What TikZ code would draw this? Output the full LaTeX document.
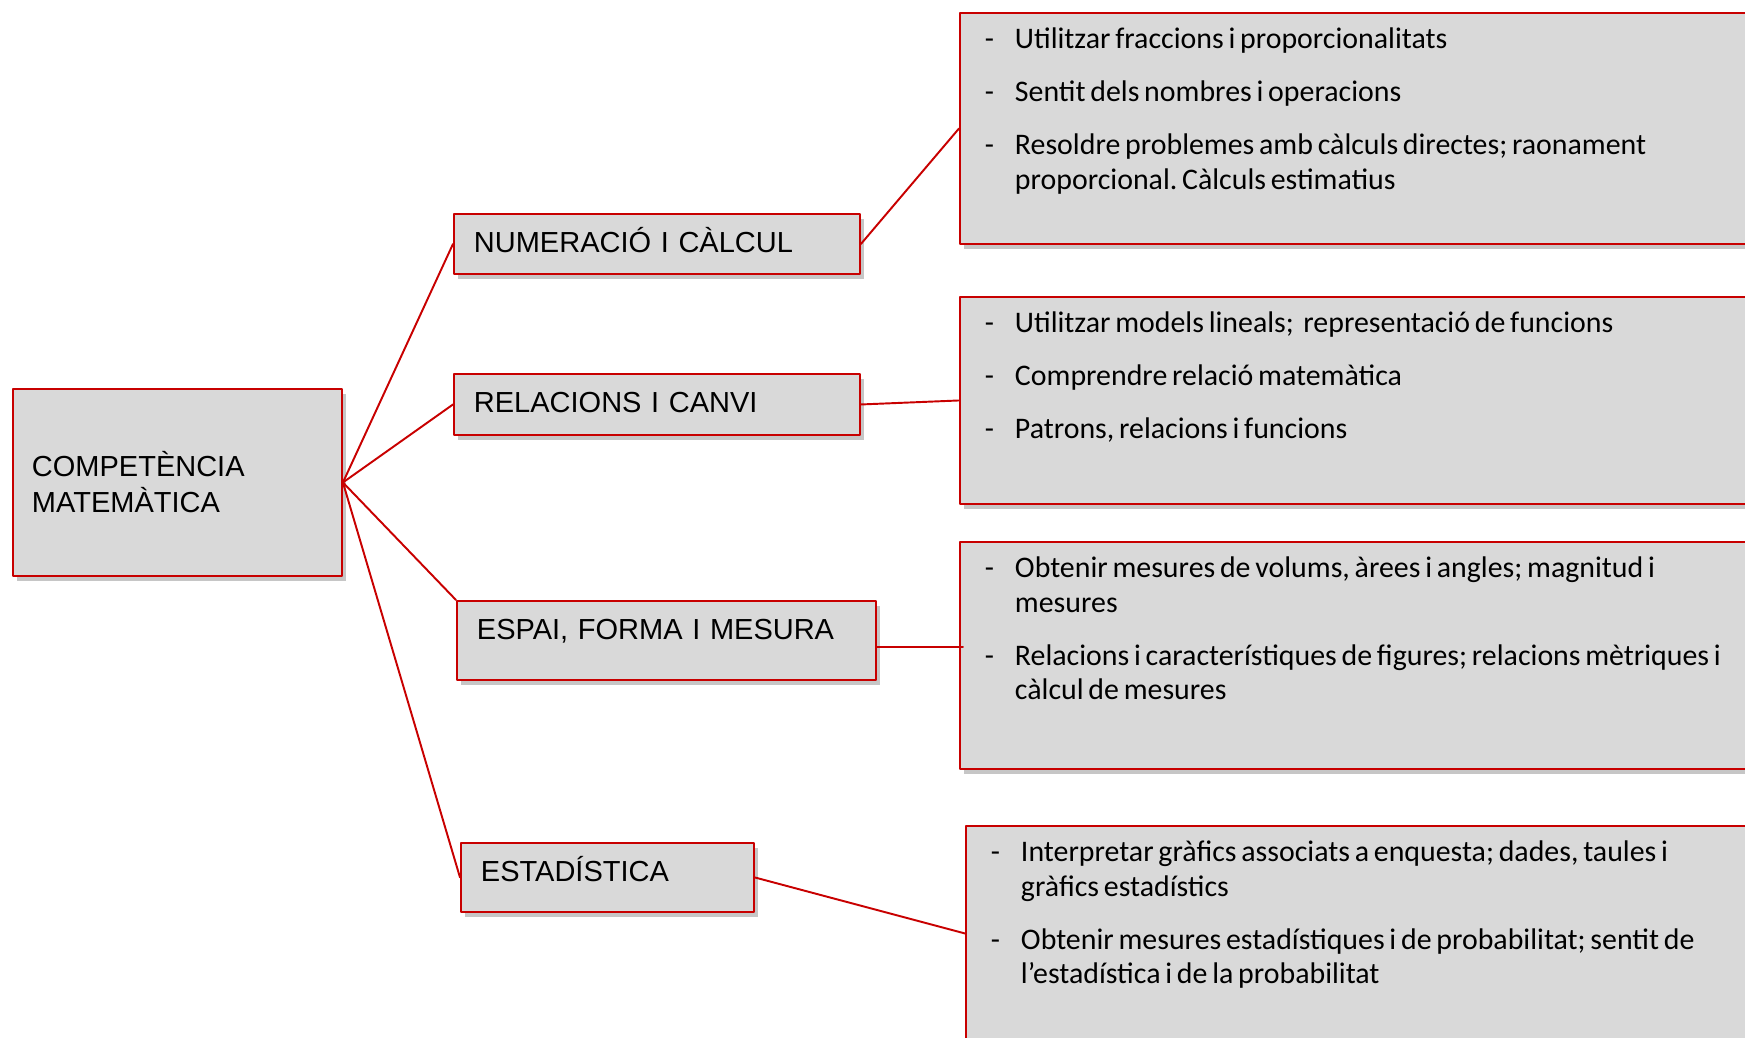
\documentclass[tikz,border=0pt]{standalone}
\usepackage{fontspec}
\setmainfont{Liberation Sans}
\newfontfamily\carlito{Carlito}
\usetikzlibrary{shadows}
\definecolor{redline}{RGB}{200,0,0}
\definecolor{boxgray}{RGB}{217,217,217}
\newcommand\dashitem[1]{\noindent\spaceskip=0.16em plus 0.05em\relax\xspaceskip=\spaceskip\hangindent=0.6cm\hangafter=1\makebox[0.6cm][l]{-}#1\par\vspace{10.5pt}}
\begin{document}
\begin{tikzpicture}[line cap=round,line join=round,
  box/.style={draw=redline,line width=1.1pt,fill=boxgray,anchor=north west,align=left,inner ysep=0pt,
    drop shadow={shadow xshift=2.5pt,shadow yshift=-3pt,opacity=0.45}},
  areabox/.style={box,inner xsep=0.4cm,text height=0.78cm,font=\fontsize{16.5pt}{20.5pt}\selectfont},
  detailbox/.style={box,inner xsep=0.5cm,text width=16cm,text height=0.72cm,font=\carlito\fontsize{17pt}{19.6pt}\selectfont},
  link/.style={draw=redline,line width=1.1pt}]
  \useasboundingbox (0,0) rectangle (34.9,-20.76);
  \clip (0,0) rectangle (34.9,-20.76);
  \node[box,inner xsep=0.38cm,text width=5.82cm,minimum height=3.74cm,font=\fontsize{16.5pt}{20.5pt}\selectfont] (comp) at (0.24,-7.76) {COMPETÈNCIA\\MATEMÀTICA};
  \node[areabox,text width=7.32cm,text depth=0.42cm] (num) at (9.06,-4.26) {NUMERACIÓ I CÀLCUL};
  \node[areabox,text width=7.32cm,text depth=0.44cm] (rel) at (9.06,-7.46) {RELACIONS I CANVI};
  \node[areabox,text width=7.58cm,text depth=0.80cm] (espai) at (9.12,-12.0) {ESPAI, FORMA I MESURA};
  \node[areabox,text width=5.06cm,text depth=0.60cm] (est) at (9.2,-16.84) {ESTADÍSTICA};
  \node[detailbox,text depth=3.90cm] (numdet) at (19.18,-0.24) {\dashitem{Utilitzar fraccions i proporcionalitats}
    \dashitem{Sentit dels nombres i operacions}
    \dashitem{Resoldre problemes amb càlculs directes; raonament\newline proporcional. Càlculs estimatius}};
  \node[detailbox,text depth=3.42cm] (reldet) at (19.18,-5.92) {\dashitem{Utilitzar models lineals;~ representació de funcions}
    \dashitem{Comprendre relació matemàtica}
    \dashitem{Patrons, relacions i funcions}};
  \node[detailbox,text depth=3.82cm] (mesdet) at (19.18,-10.82) {\dashitem{Obtenir mesures de volums, àrees i angles; magnitud i\newline mesures}
    \dashitem{Relacions i característiques de figures; relacions mètriques i\newline càlcul de mesures}};
  \node[detailbox,text depth=3.58cm] (estdet) at (19.3,-16.5) {\dashitem{Interpretar gràfics associats a enquesta; dades, taules i\newline gràfics estadístics}
    \dashitem{Obtenir mesures estadístiques i de probabilitat; sentit de\newline l’estadística i de la probabilitat}};
  \draw[link] (comp.east) -- (num.west);
  \draw[link] (comp.east) -- (rel.west);
  \draw[link] (comp.east) -- (espai.north west);
  \draw[link] (comp.east) -- (est.west);
  \draw[link] (num.east) -- (numdet.west);
  \draw[link] (rel.east) -- (reldet.west);
  \draw[link] ([yshift=-0.13cm]espai.east) -- ([yshift=-0.13cm,xshift=0.08cm]espai.east -| mesdet.west);
  \draw[link] (est.east) -- (estdet.west);
\end{tikzpicture}
\end{document}
